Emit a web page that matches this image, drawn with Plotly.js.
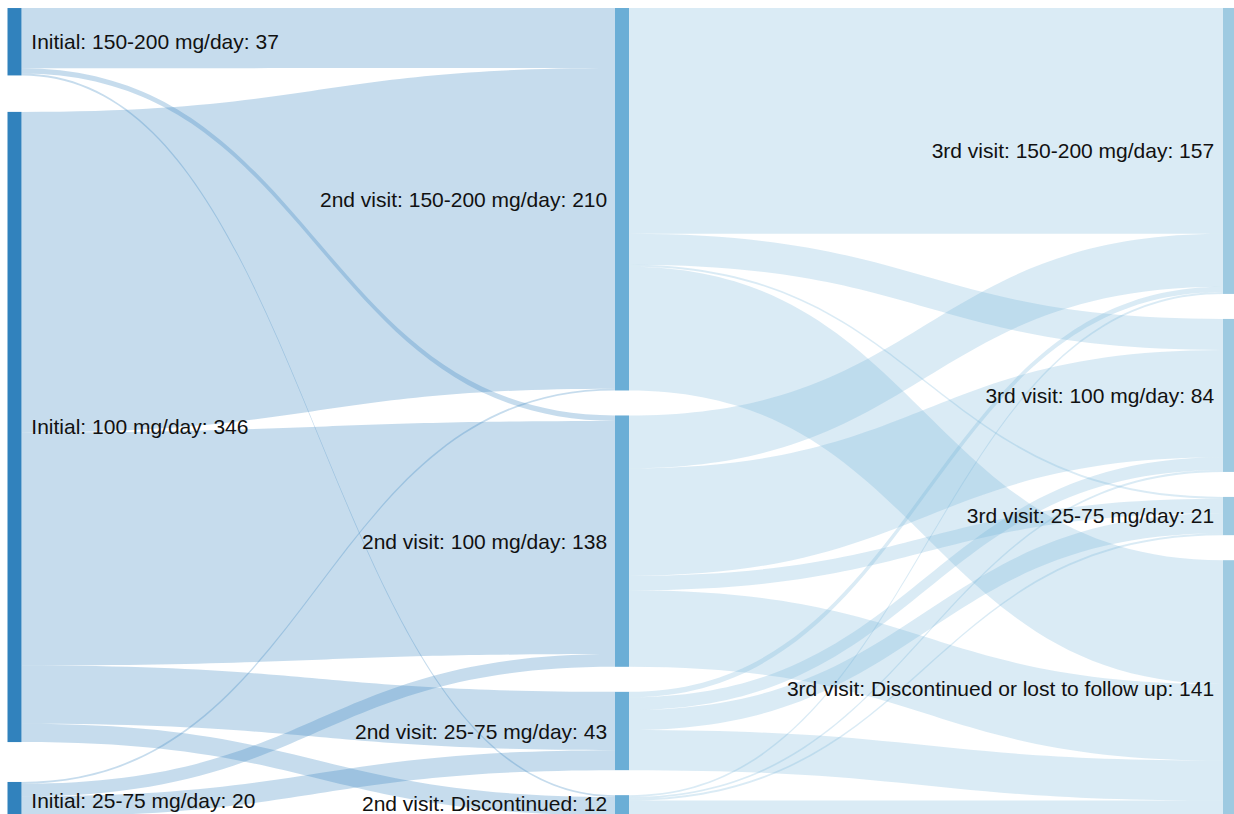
<!DOCTYPE html>
<html>
<head>
<meta charset="utf-8">
<script src="https://cdn.plot.ly/plotly-3.0.1.min.js"></script>
<style>
html, body { margin: 0; padding: 0; overflow: hidden; background: #fff; }
#chart { width: 1250px; height: 830px; }
</style>
</head>
<body>
<div id="chart"></div>
<script>
// Node names (stage: category)
var nodeNames = [
  "Initial: 150-200 mg/day",
  "Initial: 100 mg/day",
  "Initial: 25-75 mg/day",
  "2nd visit: 150-200 mg/day",
  "2nd visit: 100 mg/day",
  "2nd visit: 25-75 mg/day",
  "2nd visit: Discontinued",
  "3rd visit: 150-200 mg/day",
  "3rd visit: 100 mg/day",
  "3rd visit: 25-75 mg/day",
  "3rd visit: Discontinued or lost to follow up"
];
// Links (flows between stages)
var linkSource = [0, 0, 0,   1,   1,   1,  1,  2, 2,  2, 2,   3,  3, 3,  3,   4,  4, 4,  4,  5, 5,  5,  5, 6, 6, 6, 6];
var linkTarget = [3, 4, 6,   3,   4,   5,  6,  3, 4,  5, 6,   7,  8, 9, 10,  7,  8, 9, 10,  7, 8,  9, 10, 7, 8, 9, 10];
var linkValue  = [33, 3, 1, 176, 128, 32, 10,  1, 7, 11, 1, 124, 17, 1, 68,  29, 59, 8, 42,  3, 7, 11, 22, 1, 1, 1, 9];

// Layout positions of node centres (fractions of plot area)
var nodeX = [0.0116, 0.0116, 0.0116, 0.4976, 0.4976, 0.4976, 0.4976, 0.984, 0.984, 0.984, 0.984];
var nodeY = [0.0417, 0.5179, 0.9792, 0.2364, 0.6590, 0.8937, 0.9865, 0.1767, 0.4789, 0.6280, 0.8413];

var stageColors = ["#3182bd", "#6baed6", "#9ecae1"];
var nodeStage = [0, 0, 0, 1, 1, 1, 1, 2, 2, 2, 2];

// node totals from links
var totals = nodeNames.map(function (_, i) {
  var inSum = 0, outSum = 0;
  for (var k = 0; k < linkValue.length; k++) {
    if (linkTarget[k] === i) inSum += linkValue[k];
    if (linkSource[k] === i) outSum += linkValue[k];
  }
  return Math.max(inSum, outSum);
});
var NB = "\u00a0";
var fullText = nodeNames.map(function (n, i) { return n + ": " + totals[i]; });
// middle-column labels are drawn as annotations on the left of their nodes
var labels = fullText.map(function (t, i) {
  if (nodeStage[i] === 1) return "";
  return nodeStage[i] === 0 ? NB + t : t + NB;
});
var nodeColors = nodeStage.map(function (s) { return stageColors[s]; });
var linkColors = linkSource.map(function (s) {
  return nodeStage[s] === 0 ? "rgba(49,130,189,0.28)" : "rgba(107,174,214,0.25)";
});

var FONT = { family: "Liberation Sans, Arial, sans-serif", size: 21, color: "#111" };

var annotations = [];
for (var i = 0; i < nodeNames.length; i++) {
  if (nodeStage[i] !== 1) continue;
  // keep the bottom label inside the visible window
  var ys = (nodeY[i] > 0.97) ? 3 : 0;
  annotations.push({
    xref: "paper", yref: "paper",
    x: nodeX[i], y: 1 - nodeY[i],
    xanchor: "right", yanchor: "middle",
    xshift: -13, yshift: ys,
    text: fullText[i],
    showarrow: false,
    font: FONT
  });
}

var data = [{
  type: "sankey",
  arrangement: "fixed",
  orientation: "h",
  domain: { x: [0, 1], y: [0, 1] },
  node: {
    label: labels,
    x: nodeX,
    y: nodeY,
    color: nodeColors,
    pad: 25,
    thickness: 14,
    line: { width: 0, color: "rgba(0,0,0,0)" }
  },
  link: {
    source: linkSource,
    target: linkTarget,
    value: linkValue,
    color: linkColors,
    line: { width: 0 }
  },
  textfont: { family: FONT.family, size: 21, color: "#111", shadow: "none" }
}];

var layout = {
  width: 1250,
  height: 830,
  margin: { l: 0, r: 0, t: 8, b: 13, pad: 0 },
  paper_bgcolor: "#ffffff",
  plot_bgcolor: "#ffffff",
  font: FONT,
  annotations: annotations
};

Plotly.newPlot("chart", data, layout, { displayModeBar: false });
</script>
</body>
</html>
